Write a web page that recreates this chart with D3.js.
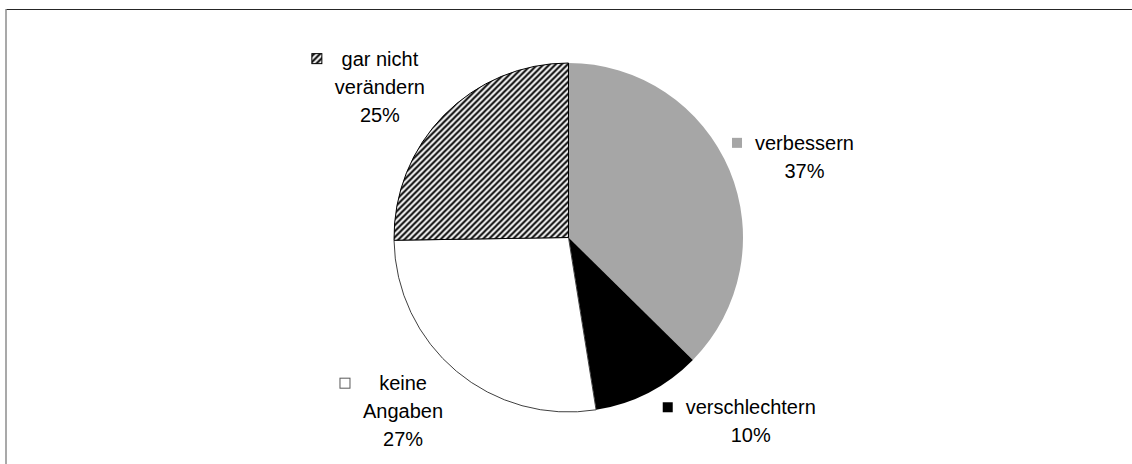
<!DOCTYPE html>
<html>
<head>
<meta charset="utf-8">
<script src="https://cdn.jsdelivr.net/npm/d3@7"></script>
<style>
    html, body { margin: 0; padding: 0; background: #fff; }
    svg { display: block; }
    text { font-family: "Liberation Sans", Arial, sans-serif; font-size: 20px; fill: #000; }
</style>
</head>
<body>
<div id="chart"></div>
<script>
// Anteile in Prozent, im Uhrzeigersinn ab 12 Uhr
const categories = ['verbessern', 'verschlechtern', 'keine Angaben', 'gar nicht verändern'];
const values = [37, 10, 27, 25];
// Zeilenumbruch der Beschriftungen wie im Original
const labelLines = [['verbessern'], ['verschlechtern'], ['keine', 'Angaben'], ['gar nicht', 'verändern']];

const width = 1132;
const height = 464;
const cx = 568.5, cy = 237.5, radius = 174.5;

const svg = d3.select('#chart')
    .append('svg')
    .attr('width', width)
    .attr('height', height);

// Schraffur für "gar nicht verändern"
const defs = svg.append('defs');
defs.append('pattern')
    .attr('id', 'hatch')
    .attr('patternUnits', 'userSpaceOnUse')
    .attr('width', 6)
    .attr('height', 6)
    .call(p => {
        p.append('rect').attr('width', 6).attr('height', 6).attr('fill', '#fff');
        p.append('path')
            .attr('d', 'M-1,1 l2,-2 M0,6 l6,-6 M5,7 l2,-2')
            .attr('stroke', '#000')
            .attr('stroke-width', 2);
    });

const fills = ['#a6a6a6', '#000000', '#ffffff', 'url(#hatch)'];
const strokes = ['none', 'none', '#404040', '#000'];

// Rahmen (nur oben und links sichtbar)
svg.append('line').attr('x1', 6).attr('y1', 9.5).attr('x2', width).attr('y2', 9.5)
    .attr('stroke', '#262626').attr('stroke-width', 1);
svg.append('line').attr('x1', 6).attr('y1', 9).attr('x2', 6).attr('y2', height)
    .attr('stroke', '#8c8c8c').attr('stroke-width', 1.5);

const pie = d3.pie().sort(null).value(d => d);
const arcs = pie(values);
const arc = d3.arc().innerRadius(0).outerRadius(radius);
const labelArc = d3.arc().innerRadius(245).outerRadius(245);

const g = svg.append('g').attr('transform', `translate(${cx},${cy})`);

g.selectAll('path.slice')
    .data(arcs)
    .enter()
    .append('path')
    .attr('class', 'slice')
    .attr('d', arc)
    .attr('fill', (d, i) => fills[i])
    .attr('stroke', (d, i) => strokes[i])
    .attr('stroke-width', 1);

// Verschiebung der Beschriftungen gegenüber dem Bogenmittelpunkt (Excel "beste Anpassung")
const labelNudge = [[10, 15], [70, -33], [-8, -13], [-14, 22]];
const lineHeight = 28;
const keySize = 10;

arcs.forEach((d, i) => {
    const [mx, my] = labelArc.centroid(d);
    const lx = mx + labelNudge[i][0];
    const ly = my + labelNudge[i][1];
    const lines = labelLines[i].concat([d3.format('.0f')(values[i]) + '%']);
    const firstBase = ly - (lines.length - 1) * lineHeight / 2 + 6;

    const lbl = g.append('g').attr('class', 'label');
    const texts = lbl.selectAll('text')
        .data(lines)
        .enter()
        .append('text')
        .attr('x', lx)
        .attr('y', (t, j) => firstBase + j * lineHeight)
        .attr('text-anchor', 'middle')
        .text(t => t);

    // Legendensymbol links neben der breitesten Zeile
    let minX = Infinity;
    texts.each(function () { minX = Math.min(minX, this.getBBox().x); });
    lbl.append('rect')
        .attr('x', minX - 13 - keySize)
        .attr('y', firstBase - 12)
        .attr('width', keySize)
        .attr('height', keySize)
        .attr('fill', fills[i])
        .attr('stroke', i === 2 ? '#595959' : (i === 3 ? '#000' : 'none'))
        .attr('stroke-width', 1);
});
</script>
</body>
</html>
